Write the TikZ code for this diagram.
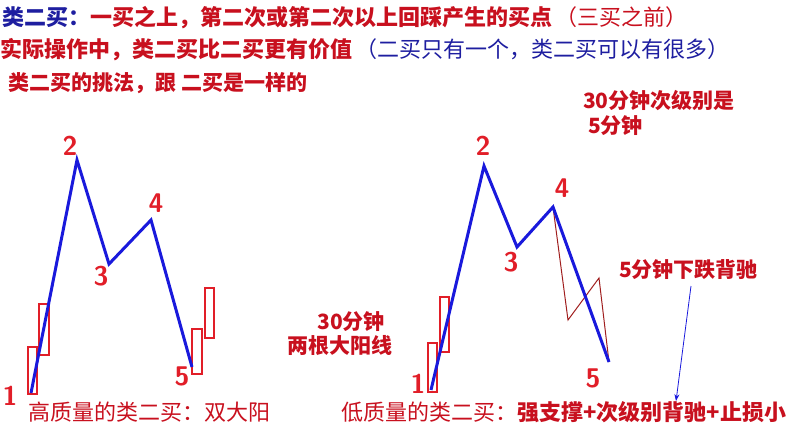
\documentclass[tikz,border=0pt]{standalone}
\usepackage{fontspec}
\newfontfamily\cjk{Noto Sans CJK SC}
\usetikzlibrary{arrows.meta}
\definecolor{tred}{RGB}{200,16,30}
\definecolor{tblue}{RGB}{30,30,160}
\definecolor{lblue}{RGB}{25,25,220}
\definecolor{cred}{RGB}{225,30,40}
\definecolor{brn}{RGB}{160,30,30}
\begin{document}
\begin{tikzpicture}[x=1pt,y=-1pt,
  txt/.style={inner sep=0pt, anchor=west, text=tred, font=\cjk\fontsize{22}{24}\selectfont},
  btxt/.style={txt, font=\cjk\bfseries\fontsize{21}{24}\selectfont},
  num/.style={text=cred, inner sep=0pt, font=\sffamily\bfseries\fontsize{27}{28}\selectfont},
  wave/.style={draw=lblue, line width=3pt, line join=miter},
  candle/.style={draw=cred, line width=2pt},
  sub/.style={draw=brn, line width=1pt}]
\useasboundingbox (0,0) rectangle (800,429);

% titles
\node[txt] (t1) at (2,18) {\bfseries{\color{tblue}类二买：}一买之上，第二次或第二次以上回踩产生的买点\,\mdseries（三买之前）};
\node[txt] (t2) at (0,50) {\bfseries 实际操作中，类二买比二买更有价值\,{\mdseries\color{tblue}（二买只有一个，类二买可以有很多）}};
\node[txt, font=\cjk\bfseries\fontsize{21}{24}\selectfont] (t3) at (8,83) {类二买的挑法，跟 二买是一样的};

% left diagram
\coordinate (a1) at (31,393);
\coordinate (a2) at (77,160);
\coordinate (a3) at (109,264);
\coordinate (a4) at (151,220);
\coordinate (a5) at (192,367);
\draw[candle] (28,347) rectangle (37,394);
\draw[candle] (39,304) rectangle (49,355);
\draw[candle] (192,329) rectangle (202,374);
\draw[candle] (205,288) rectangle (214,338);
\draw[wave] (a1) -- (a2) -- (a3) -- (a4) -- (a5);
\node[num] (l1) at (10,396) {1};
\node[num] (l2) at (70,146) {2};
\node[num] (l3) at (101,276) {3};
\node[num] (l4) at (156,203) {4};
\node[num] (l5) at (182,376) {5};
\node[txt] (bl) at (28,412) {高质量的类二买：双大阳};

% right diagram
\coordinate (b1) at (431,390);
\coordinate (b2) at (484,166);
\coordinate (b3) at (517,247);
\coordinate (b4) at (553,207);
\coordinate (b5) at (609,362);
\coordinate (s1) at (568,320);
\coordinate (s2) at (599,278);
\draw[candle] (428,343) rectangle (437,392);
\draw[candle] (440,297) rectangle (449,352);
\draw[sub] (b4) -- (s1) -- (s2) -- (b5);
\draw[wave] (b1) -- (b2) -- (b3) -- (b4) -- (b5);
\node[num] (r1) at (418,384) {1};
\node[num] (r2) at (483,146) {2};
\node[num] (r3) at (511,262) {3};
\node[num] (r4) at (562,188) {4};
\node[num] (r5) at (593,378) {5};

\node[btxt] (n1) at (583,101) {30分钟次级别是};
\node[btxt] (n2) at (588,126) {5分钟};
\node[btxt] (n3) at (619,270) {5分钟下跌背驰};
\node[btxt, anchor=center] (n4) at (351,322) {30分钟};
\node[btxt, anchor=center] (n5) at (340,346) {两根大阳线};
\node[txt] (br) at (341,412) {低质量的类二买：{\bfseries 强支撑+次级别背驰+止损小}};

\coordinate (arrs) at (691,286);
\draw[-{Stealth[length=7pt,width=5pt]}, draw=lblue, line width=0.8pt] (arrs) -- (br.north -| 676,0) ;
\end{tikzpicture}
\end{document}
